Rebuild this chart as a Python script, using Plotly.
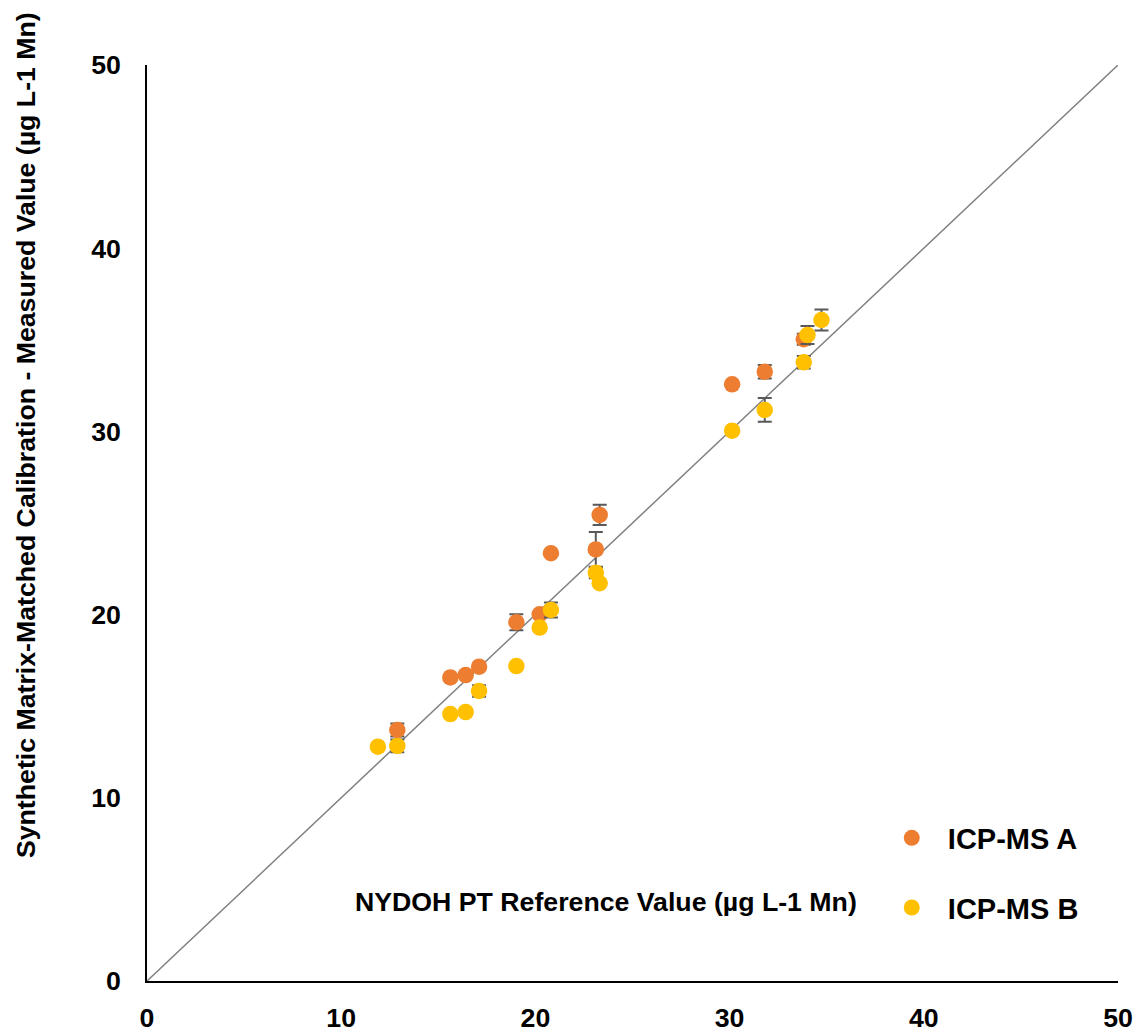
import plotly.graph_objects as go

# ICP-MS A (orange)
a_ref = [12.89, 15.62, 16.41, 17.10, 19.02, 20.22, 20.80, 23.11, 23.31, 30.13, 31.81, 33.82]
a_meas = [13.70, 16.57, 16.70, 17.16, 19.58, 20.02, 23.35, 23.56, 25.44, 32.57, 33.26, 35.03]
a_err = [0.35, 0.10, 0.10, 0.10, 0.44, 0.10, 0.10, 0.95, 0.55, 0.10, 0.37, 0.30]

# ICP-MS B (yellow)
b_ref = [11.89, 12.89, 15.62, 16.41, 17.10, 19.02, 20.22, 20.80, 23.11, 23.31, 30.13, 31.81, 33.82, 34.01, 34.73]
b_meas = [12.79, 12.83, 14.57, 14.68, 15.83, 17.19, 19.29, 20.25, 22.29, 21.71, 30.04, 31.17, 33.77, 35.26, 36.08]
b_err = [0.10, 0.35, 0.10, 0.10, 0.32, 0.10, 0.10, 0.41, 0.30, 0.10, 0.10, 0.65, 0.34, 0.49, 0.57]

line_xy = [0, 50]
ticks = [0, 10, 20, 30, 40, 50]

FONT = "Liberation Sans, Arial, sans-serif"
err_style = dict(type="data", visible=True, color="#595959", thickness=2, width=7)

fig = go.Figure()
fig.add_trace(go.Scatter(x=line_xy, y=line_xy, mode="lines",
                         line=dict(color="#808080", width=1.5),
                         showlegend=False, hoverinfo="skip"))
fig.add_trace(go.Scatter(x=a_ref, y=a_meas, mode="markers", name="\u00a0\u00a0ICP-MS A",
                         legendgroup="a",
                         marker=dict(color="#ED7D31", size=16.5),
                         error_y=dict(array=a_err, **err_style)))
fig.add_trace(go.Scatter(x=b_ref, y=b_meas, mode="markers", name="\u00a0\u00a0ICP-MS B",
                         legendgroup="b",
                         marker=dict(color="#FFC000", size=16.5),
                         error_y=dict(array=b_err, **err_style)))

axis_common = dict(range=[0, 50], tickvals=ticks, showgrid=False, zeroline=False,
                   showline=True, linecolor="black", linewidth=1.5, automargin=False,
                   ticks="outside", tickcolor="rgba(0,0,0,0)",
                   tickfont=dict(family=FONT, size=26.7, color="black", weight=700))

fig.update_xaxes(**axis_common, ticklen=12)
fig.update_yaxes(**axis_common, ticklen=19)

fig.add_annotation(text="NYDOH PT Reference Value (µg L-1 Mn)", xref="paper", yref="paper",
                   x=0.4727, y=0.0862, showarrow=False, xanchor="center", yanchor="middle",
                   font=dict(family=FONT, size=26.7, color="black", weight=700))
fig.add_annotation(text="Synthetic Matrix-Matched Calibration - Measured Value (µg L-1 Mn)",
                   xref="paper", yref="paper", x=-0.1246, y=0.596, textangle=-90,
                   showarrow=False, xanchor="center", yanchor="middle",
                   font=dict(family=FONT, size=26.7, color="black", weight=700))

fig.update_layout(
    width=1139, height=1034,
    margin=dict(l=147, r=21, t=65, b=53, autoexpand=False),
    plot_bgcolor="white", paper_bgcolor="white",
    legend=dict(x=0.767, y=0.184, xanchor="left", yanchor="top",
                traceorder="grouped", tracegroupgap=29,
                bgcolor="rgba(0,0,0,0)",
                font=dict(family=FONT, size=29, color="black", weight=700)),
)

fig.write_html("out.html", config={"displayModeBar": False},
               post_script="document.body.style.margin='0';document.body.style.padding='0';document.body.style.overflow='hidden';")
